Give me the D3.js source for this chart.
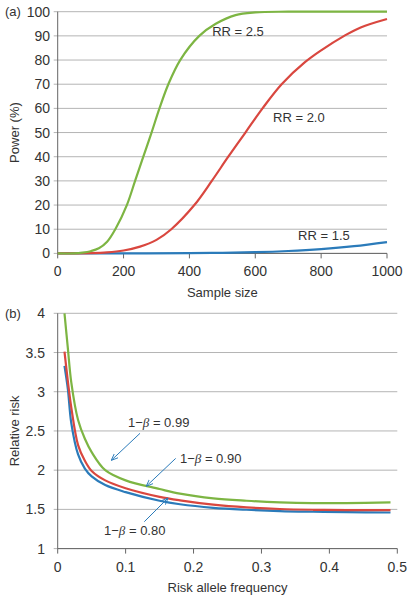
<!DOCTYPE html>
<html><head><meta charset="utf-8">
<script src="https://cdn.jsdelivr.net/npm/d3@7"></script>
<style>
body{margin:0;background:#fff;}
text{font-family:"Liberation Sans",Arial,sans-serif;fill:#333;}
</style></head>
<body><svg id="c" width="415" height="600"></svg>
<script>
// ---- Panel (a): power vs sample size ----
const sampleTicks = [0,200,400,600,800,1000];
const powerTicks = [0,10,20,30,40,50,60,70,80,90,100];
const rr25N = [0,50,75,100,125,150,175,210,235,260,285,309,336,372,430,480,540,600,700,1000];
const rr25P = [0,0,0.3,0.9,2.1,4.8,10,20,30,40,50,60,70,80,90,95,98.6,99.7,100,100];
const rr20N = [0,100,150,200,250,300,345,415,468,518,570,622,680,750,800,870,920,1000];
const rr20P = [0,0.1,0.4,1.2,2.8,5.6,10,20,30,40,50,60,70,79,84,90,93.5,97];
const rr15N = [0,200,400,500,600,700,800,900,1000];
const rr15P = [0,0.02,0.1,0.25,0.5,1.0,1.8,3.0,4.7];
const rrLabels = [{t:"RR = 2.5",n:469,p:91.7},{t:"RR = 2.0",n:654,p:56.3},{t:"RR = 1.5",n:730,p:7.6}];

// ---- Panel (b): relative risk vs risk allele frequency ----
const freqTicks = [0,0.1,0.2,0.3,0.4,0.5];
const rrTicks = [1,1.5,2,2.5,3,3.5,4];
const freq = [0.01,0.015,0.02,0.03,0.04,0.05,0.07,0.1,0.15,0.18,0.229,0.278,0.327,0.376,0.425,0.49];
const pow99 = [4.0,3.55,3.12,2.64,2.40,2.23,2.0,1.87,1.76,1.70,1.64,1.61,1.59,1.58,1.58,1.59];
const pow90 = [3.51,3.13,2.8,2.32,2.12,1.99,1.87,1.77,1.66,1.615,1.56,1.525,1.505,1.495,1.49,1.49];
const pow80 = [3.33,3.03,2.6,2.2,2.02,1.92,1.81,1.72,1.61,1.565,1.52,1.495,1.478,1.47,1.465,1.46];
const betaNotes = [
  {v:"0.99", tx:0.1035, ty:2.61, x1:0.1212, y1:2.47, x2:0.0795, y2:2.13},
  {v:"0.90", tx:0.18,   ty:2.15, x1:0.1737, y1:2.15, x2:0.131,  y2:1.80},
  {v:"0.80", tx:0.0682, ty:1.237,x1:0.1275, y1:1.343,x2:0.162,  y2:1.641}
];

const GREEN="#7db543", RED="#d9473f", BLUE="#2b7bba", GRID="#b4b4b4", AXIS="#666";
const svg = d3.select("#c");
svg.append("defs").append("marker").attr("id","ah").attr("viewBox","0 0 10 10")
  .attr("refX",9).attr("refY",5).attr("markerWidth",7).attr("markerHeight",7)
  .attr("orient","auto").attr("markerUnits","userSpaceOnUse")
  .append("path").attr("d","M0,1 L10,5 L0,9").attr("fill","none").attr("stroke",BLUE).attr("stroke-width",1.3);

function panel(o){
  const g = svg.append("g");
  const x = d3.scaleLinear().domain(o.xd).range(o.xr);
  const y = d3.scaleLinear().domain(o.yd).range(o.yr);
  g.append("g").selectAll("line").data(o.yt).join("line")
    .attr("x1",o.xr[0]-4).attr("x2",o.xr[1]).attr("y1",d=>y(d)).attr("y2",d=>y(d))
    .attr("stroke",GRID).attr("stroke-width",1);
  g.append("g").selectAll("text").data(o.yt).join("text")
    .attr("x",o.ylx).attr("y",d=>y(d)).attr("text-anchor","end").attr("dominant-baseline","central")
    .attr("font-size",14).text(d=>d);
  g.append("line").attr("x1",o.xr[0]).attr("x2",o.xr[0]).attr("y1",o.yr[0]).attr("y2",o.yr[1]).attr("stroke",AXIS);
  g.append("line").attr("x1",o.xr[0]).attr("x2",o.xr[1]).attr("y1",o.yr[0]).attr("y2",o.yr[0]).attr("stroke",AXIS);
  g.append("g").selectAll("line").data(o.xt).join("line")
    .attr("x1",d=>x(d)).attr("x2",d=>x(d)).attr("y1",o.yr[0]).attr("y2",o.yr[0]+5).attr("stroke",AXIS);
  g.append("g").selectAll("text").data(o.xt).join("text")
    .attr("x",d=>x(d)).attr("y",o.yr[0]+18).attr("text-anchor","middle").attr("dominant-baseline","central")
    .attr("font-size",14).text(o.xf);
  g.append("text").attr("x",(o.xr[0]+o.xr[1])/2).attr("y",o.yr[0]+39).attr("text-anchor","middle")
    .attr("dominant-baseline","central").attr("font-size",13).text(o.xlab);
  g.append("text").attr("transform",`translate(14,${(o.yr[0]+o.yr[1])/2}) rotate(-90)`)
    .attr("text-anchor","middle").attr("dominant-baseline","central").attr("font-size",13).text(o.ylab);
  g.append("text").attr("x",5).attr("y",o.yr[1]).attr("dominant-baseline","central").attr("font-size",13).text(o.tag);
  const line = d3.line().x(d=>x(d[0])).y(d=>y(d[1])).curve(d3.curveCatmullRom.alpha(0.5));
  o.series.forEach(s=>{
    g.append("path").datum(s.xs.map((v,i)=>[v,s.ys[i]])).attr("d",line)
      .attr("fill","none").attr("stroke",s.c).attr("stroke-width",2.2);
  });
  return {g,x,y};
}

const A = panel({xd:[0,1000],xr:[57.7,387],yd:[0,100],yr:[253.4,11.7],xt:sampleTicks,yt:powerTicks,
  ylx:50,xf:d=>d,xlab:"Sample size",ylab:"Power (%)",tag:"(a)",
  series:[{xs:rr15N,ys:rr15P,c:BLUE},{xs:rr20N,ys:rr20P,c:RED},{xs:rr25N,ys:rr25P,c:GREEN}]});
A.g.append("g").selectAll("text").data(rrLabels).join("text")
  .attr("x",d=>A.x(d.n)).attr("y",d=>A.y(d.p)).attr("dominant-baseline","central")
  .attr("font-size",13).text(d=>d.t);

const B = panel({xd:[0,0.5],xr:[57.7,397.3],yd:[1,4],yr:[548.6,313.3],xt:freqTicks,yt:rrTicks,
  ylx:45,xf:d=>d,xlab:"Risk allele frequency",ylab:"Relative risk",tag:"(b)",
  series:[{xs:freq,ys:pow80,c:BLUE},{xs:freq,ys:pow90,c:RED},{xs:freq,ys:pow99,c:GREEN}]});
B.g.append("g").selectAll("line").data(betaNotes).join("line")
  .attr("x1",d=>B.x(d.x1)).attr("y1",d=>B.y(d.y1)).attr("x2",d=>B.x(d.x2)).attr("y2",d=>B.y(d.y2))
  .attr("stroke",BLUE).attr("stroke-width",1).attr("marker-end","url(#ah)");
const nt = B.g.append("g").selectAll("text").data(betaNotes).join("text")
  .attr("x",d=>B.x(d.tx)).attr("y",d=>B.y(d.ty)).attr("dominant-baseline","central").attr("font-size",13);
nt.append("tspan").text("1\u2212");
nt.append("tspan").attr("font-style","italic").attr("font-family","Liberation Serif, serif").text("\u03b2");
nt.append("tspan").text(d=>" = "+d.v);
</script></body></html>
